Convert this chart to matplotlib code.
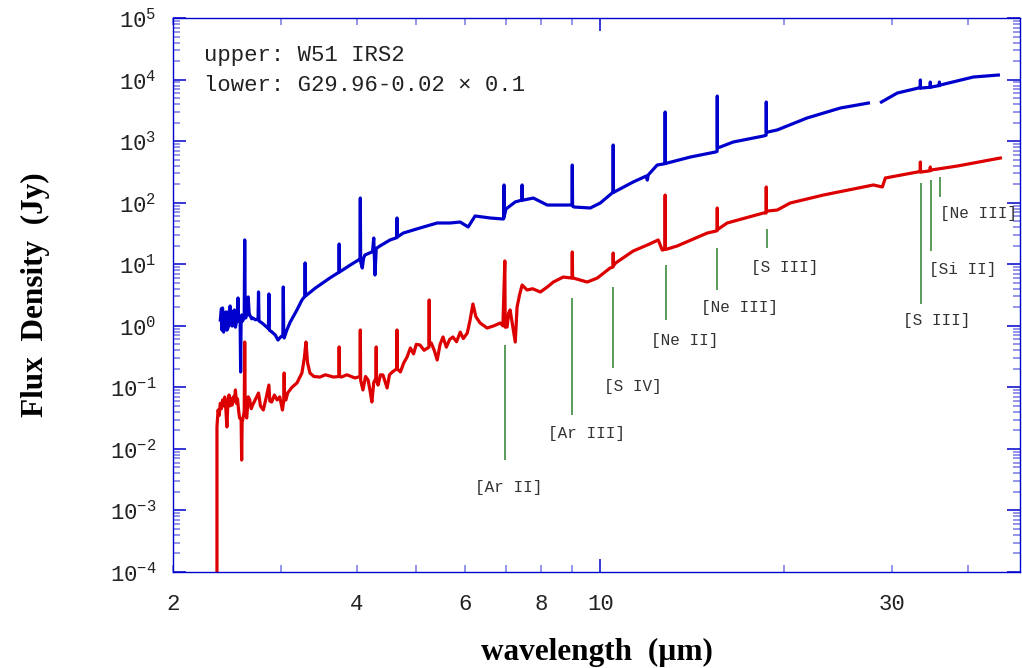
import numpy as np
import matplotlib
matplotlib.use("Agg")
import matplotlib.pyplot as plt
from matplotlib.ticker import FixedLocator, FuncFormatter, LogLocator, NullFormatter

plt.rcParams['mathtext.fontset'] = 'custom'
plt.rcParams['mathtext.rm'] = 'Liberation Mono'
plt.rcParams['mathtext.default'] = 'rm'

# upper spectrum: W51 IRS2, wavelength (um) / flux density (Jy), nan = gap
w51_wave = [2.39, 2.40, 2.405, 2.41, 2.415, 2.42, 2.43, 2.435, 2.44, 2.45, 2.46, 2.465,
            2.47, 2.48, 2.49, 2.50, 2.51, 2.52, 2.53, 2.54, 2.55, 2.555, 2.56, 2.57,
            2.575, 2.58, 2.585, 2.59, 2.60, 2.615, 2.62, 2.625, 2.63, 2.645, 2.655, 2.665,
            2.67, 2.69, 2.70, 2.73, 2.755, 2.76, 2.765, 2.80, 2.83, 2.865, 2.87, 2.875,
            2.90, 2.94, 2.97, 3.00, 3.025, 3.03, 3.035, 3.04, 3.07, 3.11, 3.19, 3.25,
            3.285, 3.29, 3.295, 3.42, 3.61, 3.735, 3.74, 3.745, 3.90, 4.02, 4.045, 4.05,
            4.055, 4.08, 4.10, 4.12, 4.24, 4.26, 4.28, 4.30, 4.36, 4.53, 4.645, 4.65,
            4.655, 4.76, 5.07, 5.41, 5.68, 5.90, 6.08, 6.24, 6.61, 6.94, 6.955, 6.96,
            6.965, 7.01, 7.26, 7.44, 7.45, 7.46, 7.51, 7.77, 8.19, 8.83, 8.99, 9.00,
            9.01, 9.06, 9.63, 10.0, 10.46, 10.49, 10.50, 10.51, 10.54, 11.32, 11.89, 11.94,
            11.98, 12.39, 12.76, 12.77, 12.78, 12.87, 14.04, 15.42, 15.53, 15.54, 15.55, 15.71,
            16.50, 18.48, 18.68, 18.69, 18.70, 18.80, 19.48, 21.80, 24.70, 27.46, 28.2, 28.84,
            30.62, 33.14, 33.39, 33.40, 33.41, 33.50, 34.66, 34.67, 34.68, 34.80, 35.87, 35.88,
            35.89, 36.00, 40.77, 44.80]
w51_flux = [1.24, 1.9, 0.85, 1.95, 0.9, 0.79, 1.6, 0.95, 1.68, 0.85, 0.92, 1.7,
            1.0, 2.10, 1.1, 0.99, 1.7, 1.81, 0.95, 1.15, 1.6, 2.83, 1.2, 1.4,
            1.3, 0.178, 1.3, 1.50, 1.2, 1.4, 24.8, 1.4, 1.34, 1.6, 2.94, 1.5,
            1.50, 1.3, 1.34, 1.25, 1.3, 3.54, 1.2, 1.1, 1.0, 0.9, 3.29, 0.85,
            0.8, 0.708, 0.587, 0.658, 0.7, 4.27, 0.68, 0.634, 0.85, 1.15, 1.81, 2.62,
            3.0, 10.5, 3.05, 4.11, 5.97, 7.4, 21.3, 7.48, 9.72, 11.7, 12.0, 119,
            11.0, 8.69, 12.5, 14.1, 16.0, 26.7, 6.68, 18.0, 19.8, 24.8, 27.0, 56.4,
            27.7, 32.1, 38.8, 46.8, 46.8, 48.5, 40.3, 60.8, 56.4, 54.3, 56.0, 194,
            60.0, 78.9, 103, 110, 194, 110, 111, 119, 91.6, 91.6, 92.0, 409,
            88.0, 85.1, 82.0, 98.8, 144, 146, 865, 147, 149, 217, 271, 233,
            282, 409, 430, 2970, 435, 441, 552, 665, 680, 5400, 780, 802,
            968, 1210, 1250, 4320, 1380, 1406, 1520, 2380, 3450, 4160, np.nan, 4320,
            6050, 7290, 7350, 9840, 7290, 7290, 7500, 9120, 7570, 7570, 8000, 9120,
            8160, 8160, 11010, 11860]

# lower spectrum: G29.96-0.02 x 0.1
g29_wave = [2.36, 2.36, 2.37, 2.38, 2.39, 2.40, 2.41, 2.42, 2.43, 2.44, 2.45, 2.46,
            2.47, 2.48, 2.49, 2.50, 2.51, 2.52, 2.53, 2.54, 2.55, 2.56, 2.57, 2.585,
            2.59, 2.595, 2.60, 2.615, 2.62, 2.625, 2.64, 2.655, 2.67, 2.685, 2.70, 2.73,
            2.76, 2.78, 2.81, 2.84, 2.87, 2.88, 2.90, 2.93, 2.96, 2.99, 3.02, 3.035,
            3.04, 3.045, 3.06, 3.08, 3.13, 3.19, 3.25, 3.28, 3.30, 3.32, 3.35, 3.40,
            3.48, 3.55, 3.66, 3.735, 3.74, 3.745, 3.77, 3.85, 3.97, 4.045, 4.05, 4.055,
            4.09, 4.13, 4.17, 4.20, 4.23, 4.26, 4.295, 4.30, 4.305, 4.33, 4.37, 4.41,
            4.45, 4.48, 4.52, 4.57, 4.645, 4.65, 4.655, 4.71, 4.77, 4.83, 4.89, 4.95,
            5.00, 5.07, 5.15, 5.245, 5.25, 5.255, 5.29, 5.35, 5.41, 5.47, 5.53, 5.60,
            5.67, 5.74, 5.82, 5.90, 5.97, 6.06, 6.12, 6.19, 6.26, 6.36, 6.53, 6.70,
            6.86, 6.93, 6.98, 6.99, 7.04, 7.08, 7.12, 7.20, 7.26, 7.31, 7.38, 7.45,
            7.59, 7.75, 7.98, 8.20, 8.38, 8.70, 8.97, 8.99, 9.00, 9.01, 9.03, 9.52,
            9.89, 10.38, 10.49, 10.50, 10.51, 10.60, 11.32, 12.0, 12.44, 12.63, 12.76, 12.77,
            12.78, 12.87, 13.36, 14.96, 15.53, 15.54, 15.55, 15.60, 16.13, 18.48, 18.68, 18.69,
            18.70, 18.80, 19.48, 20.45, 23.16, 27.98, 28.94, 29.27, 33.02, 33.39, 33.40, 33.41,
            33.50, 34.66, 34.67, 34.68, 34.80, 38.38, 45.14]
g29_flux = [5e-5, 0.0227, 0.0429, 0.035, 0.055, 0.045, 0.0624, 0.05, 0.0697, 0.045, 0.0227, 0.06,
            0.0752, 0.05, 0.065, 0.0517, 0.07, 0.06, 0.0906, 0.055, 0.065, 0.0429, 0.0318, 0.03,
            0.0066, 0.03, 0.0295, 0.04, 0.545, 0.04, 0.0318, 0.07, 0.0624, 0.045, 0.0517, 0.065,
            0.0809, 0.05, 0.0429, 0.0671, 0.109, 0.06, 0.0578, 0.075, 0.0624, 0.07, 0.0429, 0.06,
            0.171, 0.065, 0.0624, 0.0809, 0.10, 0.118, 0.171, 0.30, 0.545, 0.25, 0.171, 0.15,
            0.147, 0.16, 0.147, 0.15, 0.453, 0.15, 0.147, 0.16, 0.142, 0.15, 0.855, 0.13,
            0.0906, 0.15, 0.132, 0.09, 0.0578, 0.12, 0.14, 0.453, 0.13, 0.109, 0.16, 0.159,
            0.12, 0.0977, 0.16, 0.178, 0.20, 0.855, 0.20, 0.178, 0.25, 0.311, 0.436, 0.35,
            0.50, 0.488, 0.40, 0.45, 2.62, 0.50, 0.526, 0.40, 0.278, 0.50, 0.658, 0.45,
            0.60, 0.658, 0.55, 0.79, 0.62, 0.764, 1.2, 2.26, 1.4, 1.11, 0.92, 1.0,
            1.11, 1.0, 11.3, 0.95, 0.955, 1.6, 1.81, 0.9, 0.545, 2.02, 3.2, 4.60,
            3.82, 4.0, 3.54, 4.3, 5.14, 6.20, 5.97, 6.0, 15.8, 6.0, 5.97, 5.14,
            5.97, 8.69, 9.0, 15.2, 9.5, 10.5, 16.4, 21.0, 24.8, 17.0, 17.5, 133,
            17.5, 17.7, 19.8, 32.1, 35.0, 82.0, 37.0, 37.3, 46.8, 67.9, 68.0, 180,
            72.0, 73.3, 76.0, 98.8, 133, 194, 180, 252, 315, 320, 458, 315,
            315, 330, 380, 340, 340, 394, 532]

# emission line markers
line_names = ['[Ar II]', '[Ar III]', '[S IV]', '[Ne II]', '[Ne III]', '[S III]',
              '[S III]', '[Si II]', '[Ne III]']
line_wave = [6.98, 8.99, 10.51, 12.81, 15.55, 18.71, 33.48, 34.82, 36.01]
line_top = [0.488, 2.83, 4.27, 9.72, 18.4, 37.3, 209, 233, 261]
line_bot = [0.0066, 0.0356, 0.206, 1.24, 3.82, 18.4, 2.26, 16.4, 124]
label_wave = [7.09, 9.48, 11.32, 13.72, 16.88, 20.0, 35.5, 39.1, 41.5]
label_flux = [0.00232, 0.0175, 0.105, 0.587, 2.02, 8.69, 1.20, 8.37, 67.9]

ax_col = '#0000cc'
minor_col = '#7777e6'

fig = plt.figure(figsize=(10.22, 6.68), dpi=100)
ax = fig.add_axes([0.1693, 0.1437, 0.8287, 0.8293])

ax.plot(w51_wave, w51_flux, color='#0000cc', lw=2.3)
ax.plot(g29_wave, g29_flux, color='#dd0000', lw=2.3)

ax.vlines(line_wave, line_bot, line_top, color='#3d8a3d', lw=1.2)
for name, lx, ly in zip(line_names, label_wave, label_flux):
    ax.text(lx, ly, name, family='Liberation Mono', fontsize=11.5, color='#333333',
            ha='center', va='center')

ax.set_xscale('log')
ax.set_yscale('log')
ax.set_xlim(2, 48.6)
ax.set_ylim(1e-4, 1e5)

ax.xaxis.set_major_locator(FixedLocator([10]))
ax.xaxis.set_minor_locator(FixedLocator([2, 3, 4, 5, 6, 7, 8, 9, 20, 30, 40]))
ax.xaxis.set_major_formatter(FuncFormatter(lambda v, p: '%g' % v))
ax.xaxis.set_minor_formatter(FuncFormatter(
    lambda v, p: '%g' % v if round(v) in (2, 4, 6, 8, 30) else ''))
ax.yaxis.set_major_locator(LogLocator(base=10, numticks=20))
ax.yaxis.set_minor_locator(LogLocator(base=10, subs=np.arange(2, 10), numticks=20))
ax.yaxis.set_minor_formatter(NullFormatter())
ax.yaxis.set_major_formatter(FuncFormatter(lambda v, p: r'$10^{%d}$' % round(np.log10(v))))

ax.tick_params(which='both', direction='in', top=True, right=True,
               labelsize=16, labelcolor='#222222')
ax.tick_params(which='major', length=9.5, width=1.1, color=ax_col)
ax.tick_params(which='minor', length=5, width=1.1, color=minor_col)
ax.tick_params(axis='x', which='both', pad=16)
ax.tick_params(axis='y', which='both', pad=12)
for lab in ax.get_xticklabels(which='both') + ax.get_yticklabels():
    lab.set_family('Liberation Mono')

for sp in ax.spines.values():
    sp.set_color(ax_col)
    sp.set_linewidth(1.0)

ax.set_xlabel(u'wavelength  (\u00b5m)', family='Liberation Serif', fontweight='bold',
              fontsize=22.5, labelpad=16)
ax.set_ylabel('Flux  Density  (Jy)', family='Liberation Serif', fontweight='bold',
              fontsize=22.5, labelpad=43)

ax.text(0.037, 0.933, 'upper: W51 IRS2', transform=ax.transAxes,
        family='Liberation Mono', fontsize=16, color='#222222', va='center')
ax.text(0.037, 0.878, u'lower: G29.96-0.02 \u00d7 0.1', transform=ax.transAxes,
        family='Liberation Mono', fontsize=16, color='#222222', va='center')

fig.savefig('out.png', dpi=100)
